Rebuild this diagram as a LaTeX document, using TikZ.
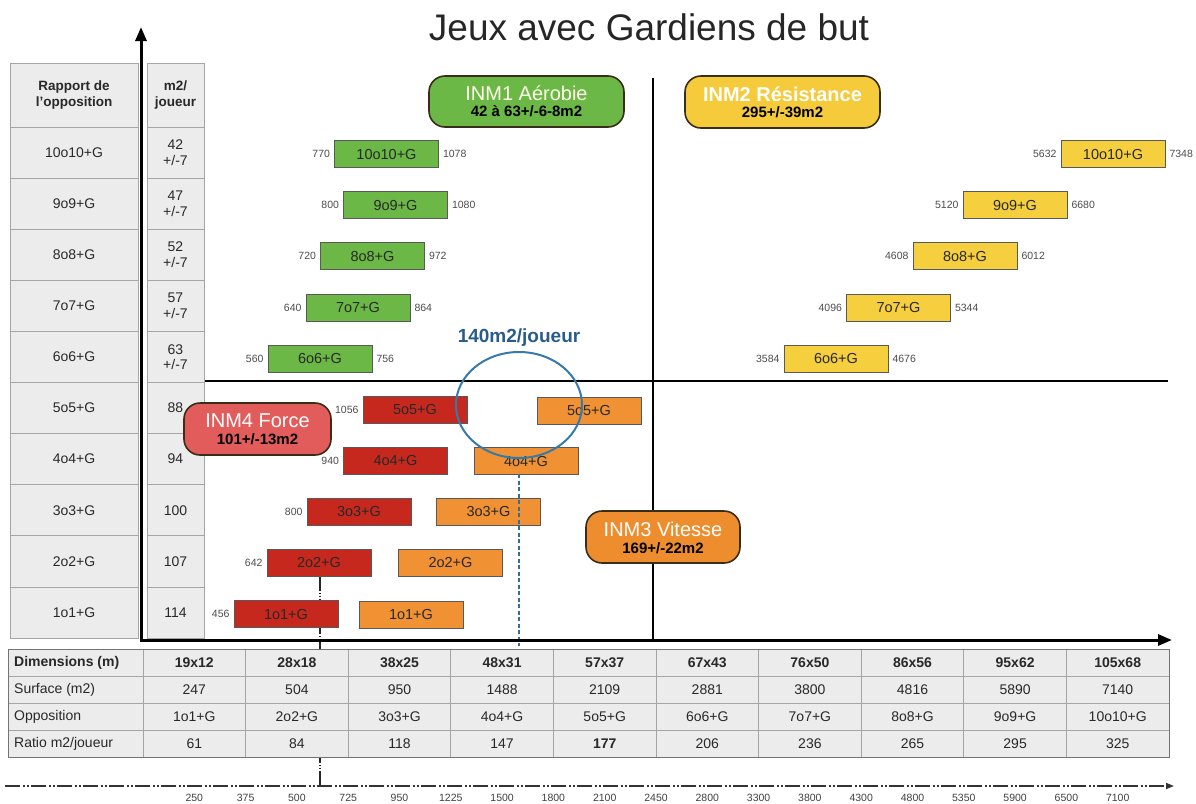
\documentclass[tikz,border=0pt]{standalone}
\usepackage{fontspec}
\setmainfont{Liberation Sans}
\usetikzlibrary{arrows.meta,shapes.geometric}

\definecolor{barGreen}{RGB}{108,184,70}
\definecolor{barYellow}{RGB}{245,207,62}
\definecolor{barRed}{RGB}{198,40,30}
\definecolor{barOrange}{RGB}{240,146,52}
\definecolor{boxRed}{RGB}{226,92,92}
\definecolor{boxOrange}{RGB}{238,141,46}
\definecolor{phaseEdge}{RGB}{55,45,25}
\definecolor{cellGray}{RGB}{236,236,236}
\definecolor{ruleGray}{RGB}{165,165,165}
\definecolor{inkDark}{RGB}{40,40,40}
\definecolor{ringBlue}{RGB}{54,122,172}
\definecolor{textBlue}{RGB}{40,92,140}

\newcommand{\pxfont}[2]{\fontsize{#1}{#2}\selectfont}

\begin{document}
\begin{tikzpicture}[x=1pt,y=-1pt,
  every node/.style={inner sep=0pt, text=inkDark},
  bar/.style={draw=black!65, line width=0.7pt, minimum width=104pt,
    minimum height=27pt, font=\pxfont{14.5}{16}},
  numlab/.style={font=\pxfont{10.5}{12}, text=black!70},
  phase/.style={draw=phaseEdge, line width=1.6pt, rounded corners=16pt,
    minimum height=52pt},
  phasetitle/.style={font=\pxfont{20}{22}, text=white},
  phasesub/.style={font=\pxfont{15}{17}\bfseries, text=black},
  axis/.style={line width=3pt, -{Triangle[length=14pt,width=11pt]}},
  quad/.style={line width=2pt, black},
  cell/.style={fill=cellGray, draw=ruleGray, line width=0.8pt},
  tabtext/.style={font=\pxfont{14}{15.5}},
  tick/.style={font=\pxfont{10.5}{12}, text=black!75},
  dashdotdot/.style={dash pattern=on 15pt off 2.5pt on 2pt off 2pt on 2pt off 2.5pt},
]
\useasboundingbox (0,0) rectangle (1196,803);

% ---- title
\node[font=\pxfont{37}{40}, text=black!85] (title) at (649,27) {Jeux avec Gardiens de but};

% ---- left table: opposition and m2 per player
\draw[cell] (10,63) rectangle (138,127);
\draw[cell] (147,63) rectangle (204,127);
\foreach \i in {0,...,9}{
  \pgfmathsetmacro\ya{127+51.1*\i}
  \pgfmathsetmacro\yb{\ya+51.1}
  \draw[cell] (10,\ya) rectangle (138,\yb);
  \draw[cell] (147,\ya) rectangle (204,\yb);
}
\node[tabtext, font=\pxfont{13.5}{16}\bfseries, align=center] (hopp) at (74,95) {Rapport de\\l'opposition};
\node[tabtext, font=\pxfont{13.5}{16}\bfseries, align=center] (hsqm) at (175.5,95) {m2/\\joueur};
\foreach \lab/\val [count=\i from 0] in {10o10+G/{42\\+/-7}, 9o9+G/{47\\+/-7},
    8o8+G/{52\\+/-7}, 7o7+G/{57\\+/-7}, 6o6+G/{63\\+/-7}, 5o5+G/88, 4o4+G/94,
    3o3+G/100, 2o2+G/107, 1o1+G/114}{
  \pgfmathsetmacro\yc{127+51.1*\i+25.55}
  \node[tabtext] (opp\i) at (74,\yc) {\lab};
  \node[tabtext, align=center] (sqm\i) at (175.5,\yc) {\val};
}

% ---- axes and quadrants
\coordinate (origin) at (141,640);
\coordinate (ytop) at (141,27);
\coordinate (xend) at (1172,640);
\coordinate (qtop) at (653,78);
\coordinate (qbot) at (653,640);
\coordinate (qleft) at (205,381);
\coordinate (qright) at (1168,381);
\draw[quad] (qtop) -- (qbot);
\draw[quad] (qleft) -- (qright);

% ---- bottom scale axis
\coordinate (b0) at (5,786);
\coordinate (b1) at (1174,786);
\draw[black!80, line width=1.6pt, dashdotdot, -{Triangle[length=8pt,width=6pt]}] (b0) -- (b1);

% ---- green bars (aerobic)
\node[bar, fill=barGreen] (g10) at (386.5,154.1) {10o10+G};
\node[bar, fill=barGreen] (g9)  at (395.5,205.2) {9o9+G};
\node[bar, fill=barGreen] (g8)  at (372.5,256.3) {8o8+G};
\node[bar, fill=barGreen] (g7)  at (358,307.4) {7o7+G};
\node[bar, fill=barGreen] (g6)  at (320,358.5) {6o6+G};
\foreach \n/\l/\r in {g10/770/1078, g9/800/1080, g8/720/972, g7/640/864, g6/560/756}{
  \node[numlab, anchor=east] (\n l) at ([xshift=-4pt]\n.west) {\l};
  \node[numlab, anchor=west] (\n r) at ([xshift=4pt]\n.east) {\r};
}

% ---- yellow bars (resistance)
\node[bar, fill=barYellow] (y10) at (1113,154.1) {10o10+G};
\node[bar, fill=barYellow] (y9)  at (1015,205.2) {9o9+G};
\node[bar, fill=barYellow] (y8)  at (965,256.3) {8o8+G};
\node[bar, fill=barYellow] (y7)  at (898.5,307.4) {7o7+G};
\node[bar, fill=barYellow] (y6)  at (836,358.5) {6o6+G};
\foreach \n/\l/\r in {y10/5632/7348, y9/5120/6680, y8/4608/6012, y7/4096/5344, y6/3584/4676}{
  \node[numlab, anchor=east] (\n l) at ([xshift=-4pt]\n.west) {\l};
  \node[numlab, anchor=west] (\n r) at ([xshift=4pt]\n.east) {\r};
}

% ---- guide from the 2o2 bar down to the scale
\coordinate (r2foot) at (320,577);
\draw[black!85, line width=1.3pt, dash pattern=on 14pt off 1.5pt on 1.5pt off 1.5pt on 1.5pt off 1.5pt]
  (r2foot) -- (r2foot |- b0);

% ---- red bars (force)
\node[bar, fill=barRed] (r5) at (415,409.6) {5o5+G};
\node[bar, fill=barRed] (r4) at (395.5,460.7) {4o4+G};
\node[bar, fill=barRed] (r3) at (359,511.8) {3o3+G};
\node[bar, fill=barRed] (r2) at (319,562.9) {2o2+G};
\node[bar, fill=barRed] (r1) at (286,614.0) {1o1+G};
\foreach \n/\l in {r5/1056, r4/940, r3/800, r2/642, r1/456}{
  \node[numlab, anchor=east] (\n l) at ([xshift=-4pt]\n.west) {\l};
}

% ---- orange bars (speed)
\node[bar, fill=barOrange] (o5) at (589,410.6) {5o5+G};
\node[bar, fill=barOrange] (o4) at (526,461.2) {4o4+G};
\node[bar, fill=barOrange] (o3) at (488.5,511.8) {3o3+G};
\node[bar, fill=barOrange] (o2) at (450.5,562.9) {2o2+G};
\node[bar, fill=barOrange] (o1) at (411,614.5) {1o1+G};

% ---- 140 m2 per player marker
\coordinate (vtop) at (519,474);
\coordinate (vbot) at (519,646);
\draw[ringBlue!90!black, line width=2pt, dash pattern=on 4pt off 2.5pt] (vtop) -- (vbot);
\node[ellipse, draw=ringBlue, line width=2pt, minimum width=126pt, minimum height=106pt] (ring) at (519,405) {};
\node[font=\pxfont{19}{21}\bfseries, text=textBlue] (ringlab) at (519,338) {140m2/joueur};

% ---- main axes
\draw[axis] (origin) -- (ytop);
\draw[axis] ([xshift=-1.5pt]origin) -- (xend);

% ---- phase boxes
\node[phase, fill=barGreen, minimum width=195pt, minimum height=51pt] (inm1) at (526.5,101.5) {};
\node[phasetitle, text=white!92!yellow] at ([yshift=8pt]inm1.center) {INM1 Aérobie};
\node[phasesub] at ([yshift=-10pt]inm1.center) {42 à 63+/-6-8m2};

\node[phase, fill=barYellow!95!orange, minimum width=195pt] (inm2) at (782.5,102) {};
\node[phasetitle, font=\pxfont{20}{22}\bfseries] at ([yshift=8pt]inm2.center) {INM2 Résistance};
\node[phasesub] at ([yshift=-10pt]inm2.center) {295+/-39m2};

\node[phase, fill=boxRed, minimum width=147pt] (inm4) at (257.5,429) {};
\node[phasetitle] at ([yshift=8pt]inm4.center) {INM4 Force};
\node[phasesub] at ([yshift=-10pt]inm4.center) {101+/-13m2};

\node[phase, fill=boxOrange, minimum width=154pt] (inm3) at (663,537) {};
\node[phasetitle] at ([yshift=8pt]inm3.center) {INM3 Vitesse};
\node[phasesub] at ([yshift=-11pt]inm3.center) {169+/-22m2};

% ---- bottom table
\draw[cell] (8,649) rectangle (1169,757);
\foreach \yy in {676,703,730}{ \draw[ruleGray, line width=0.8pt] (8,\yy) -- (1169,\yy); }
\foreach \k in {0,...,9}{
  \pgfmathsetmacro\xx{143+102.6*\k}
  \draw[ruleGray, line width=0.8pt] (\xx,649) -- (\xx,757);
}
\draw[black!55, line width=1pt] (8,649) rectangle (1169,757);
\node[tabtext, anchor=west, font=\pxfont{14}{16}\bfseries] (rowdim) at (14,662.5) {Dimensions (m)};
\node[tabtext, anchor=west] (rowsurf) at (14,689.5) {Surface (m2)};
\node[tabtext, anchor=west] (rowopp) at (14,716.5) {Opposition};
\node[tabtext, anchor=west] (rowratio) at (14,743.5) {Ratio m2/joueur};
\foreach \d/\s/\o/\r [count=\k from 0] in {19x12/247/1o1+G/61, 28x18/504/2o2+G/84,
    38x25/950/3o3+G/118, 48x31/1488/4o4+G/147, 57x37/2109/5o5+G/{\bfseries 177},
    67x43/2881/6o6+G/206, 76x50/3800/7o7+G/236, 86x56/4816/8o8+G/265,
    95x62/5890/9o9+G/295, 105x68/7140/10o10+G/325}{
  \pgfmathsetmacro\xc{143+102.6*\k+51.3}
  \node[tabtext, font=\pxfont{14}{16}\bfseries] (dim\k) at (\xc,662.5) {\d};
  \node[tabtext] (surf\k) at (\xc,689.5) {\s};
  \node[tabtext] (oppo\k) at (\xc,716.5) {\o};
  \node[tabtext] (ratio\k) at (\xc,743.5) {\r};
}

% ---- scale values
\foreach \t [count=\k from 0] in {250,375,500,725,950,1225,1500,1800,2100,2450,
    2800,3300,3800,4300,4800,5350,5900,6500,7100}{
  \pgfmathsetmacro\xt{143+51.3+51.3*\k}
  \node[tick] (tick\k) at (\xt,798) {\t};
}
\end{tikzpicture}
\end{document}
